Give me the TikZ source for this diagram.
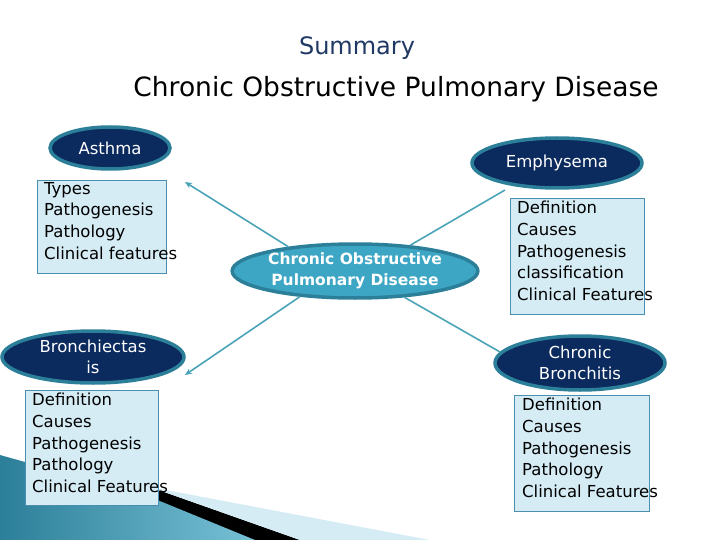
\documentclass[tikz,border=0pt]{standalone}
\usepackage{fontspec}
\setmainfont{DejaVu Sans}
\usetikzlibrary{shapes.geometric,arrows.meta}
\definecolor{navy}{HTML}{0B2A5E}
\definecolor{rimc}{HTML}{2C7F99}
\definecolor{boxf}{HTML}{D5ECF5}
\definecolor{boxd}{HTML}{4A8FB0}
\definecolor{linec}{HTML}{4BA3B8}
\definecolor{copdf}{HTML}{3DA6C4}
\definecolor{titc}{HTML}{1F3864}
\begin{document}
\begin{tikzpicture}[x=1pt,y=-1pt,
  oval/.style={ellipse,fill=navy,draw=rimc,line width=3.5pt,text=white,font=\fontsize{16.5}{20.5}\selectfont,align=center,inner sep=0pt},
  boxr/.style={draw=boxd,fill=boxf,line width=0.8pt,anchor=north west,inner sep=0pt},
  boxt/.style={font=\fontsize{16.5}{21.7}\selectfont,align=left,anchor=north west,inner sep=0pt},
  conn/.style={draw=linec,line width=1.6pt}]
\useasboundingbox (0,0) rectangle (720,540);
% bottom-left decoration
\fill[black] (150,487) -- (300,540) -- (250,540) -- (140,500) -- cycle;
\fill[boxf] (150,487) -- (430,540) -- (300,540) -- cycle;
\shade[left color=rimc,right color=copdf!70] (0,455) -- (150,497) -- (255,540) -- (0,540) -- cycle;
% titles
\node[text=titc,font=\fontsize{24}{28}\selectfont] (sum) at (357,48) {Summary};
\node[font=\fontsize{26.5}{30}\selectfont] (title) at (396,89) {Chronic Obstructive Pulmonary Disease};
% ellipses
\node[oval,minimum width=120pt,minimum height=42pt] (asth) at (110,148) {Asthma};
\node[oval,minimum width=182pt,minimum height=52pt] (bron) at (93,357) {Bronchiectas\\is};
\node[oval,minimum width=170pt,minimum height=50pt] (emph) at (557,163) {Emphysema};
\node[oval,minimum width=170pt,minimum height=54pt] (chb) at (580,363) {Chronic\\Bronchitis};
\node[oval,fill=copdf,draw=rimc,minimum width=232pt,minimum height=54pt,font=\bfseries\fontsize{15.5}{21}\selectfont] (copd) at (355,271) {Chronic Obstructive\\Pulmonary Disease};
% boxes
\node[boxr,minimum width=129pt,minimum height=93pt] (ab) at (37,180) {};
\node[boxt] (abt) at (44,182) {Types\\Pathogenesis\\Pathology\\Clinical features};
\node[boxr,minimum width=133pt,minimum height=115pt] (bb) at (25,390) {};
\node[boxt] (bbt) at (32,393) {Definition\\Causes\\Pathogenesis\\Pathology\\Clinical Features};
\node[boxr,minimum width=134pt,minimum height=116pt] (eb) at (510,198) {};
\node[boxt] (ebt) at (517,201) {Definition\\Causes\\Pathogenesis\\classification\\Clinical Features};
\node[boxr,minimum width=135pt,minimum height=116pt] (cb) at (514,395) {};
\node[boxt] (cbt) at (522,398) {Definition\\Causes\\Pathogenesis\\Pathology\\Clinical Features};
% connectors
\coordinate (ta) at (185,182);
\coordinate (tb) at (185,375);
\coordinate (te) at (505,190);
\coordinate (tc) at (500,352);
\draw[conn,-{Stealth[length=7pt,width=6pt]}] (copd.160) -- (ta);
\draw[conn,-{Stealth[length=7pt,width=6pt]}] (copd.205) -- (tb);
\draw[conn] (copd.25) -- (te);
\draw[conn] (copd.-28) -- (tc);
\end{tikzpicture}
\end{document}
